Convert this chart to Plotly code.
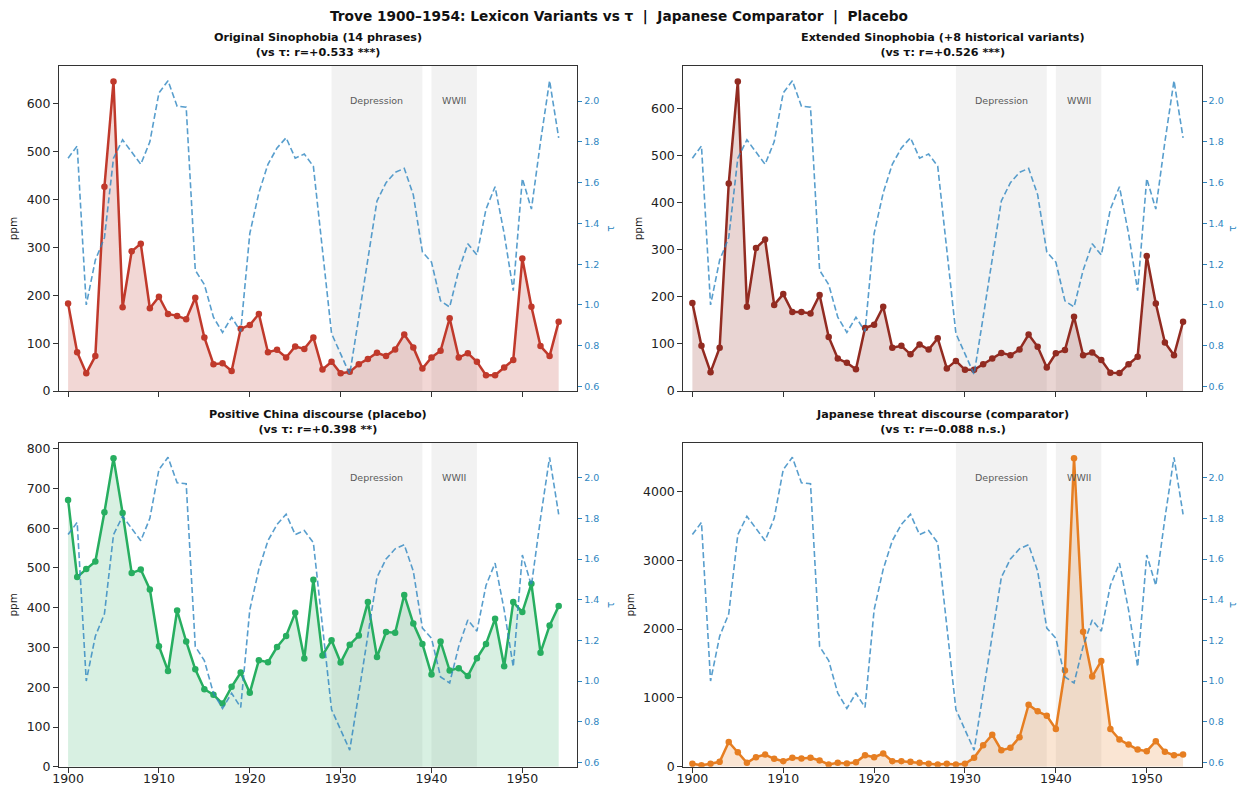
import plotly.graph_objects as go

years = list(range(1900, 1955))

tau = [1.72, 1.78, 1.00, 1.22, 1.33, 1.72, 1.81, 1.75, 1.69, 1.80,
       2.04, 2.10, 1.975, 1.97, 1.17, 1.10, 0.94, 0.865, 0.94, 0.87,
       1.35, 1.55, 1.69, 1.77, 1.82, 1.72, 1.74, 1.68, 1.28, 0.86,
       0.76, 0.66, 0.94, 1.22, 1.51, 1.60, 1.65, 1.67, 1.54, 1.26,
       1.21, 1.02, 0.99, 1.17, 1.30, 1.245, 1.47, 1.58, 1.35, 1.07,
       1.62, 1.47, 1.80, 2.10, 1.82]

original = [183, 81, 37, 73, 427, 647, 175, 292, 308, 173,
            197, 161, 157, 150, 195, 112, 56, 58, 42, 130,
            138, 161, 81, 86, 70, 93, 88, 112, 45, 61,
            37, 40, 56, 67, 80, 73, 87, 118, 91, 47,
            70, 84, 152, 70, 79, 61, 33, 33, 49, 65,
            277, 176, 94, 73, 145]

extended = [187, 96, 40, 92, 441, 658, 179, 304, 322, 183,
            206, 168, 168, 165, 204, 115, 69, 60, 46, 134,
            141, 179, 92, 96, 78, 99, 88, 112, 48, 64,
            45, 45, 57, 69, 81, 76, 88, 120, 94, 50,
            80, 87, 158, 76, 82, 66, 39, 38, 57, 73,
            287, 186, 103, 76, 147]

placebo = [671, 477, 497, 516, 640, 776, 638, 487, 496, 446,
           303, 241, 393, 315, 245, 195, 181, 159, 201, 237,
           186, 268, 263, 301, 329, 387, 272, 470, 280, 318,
           262, 307, 330, 414, 276, 339, 337, 432, 360, 309,
           232, 315, 242, 248, 228, 273, 309, 372, 253, 414,
           389, 460, 287, 355, 404]

japanese = [43, 24, 43, 72, 361, 212, 58, 140, 178, 116,
            82, 130, 120, 130, 92, 34, 58, 48, 67, 169,
            140, 193, 82, 82, 72, 58, 43, 34, 43, 34,
            43, 130, 313, 467, 241, 275, 429, 901, 805, 742,
            549, 1398, 4482, 1961, 1311, 1537, 549, 395, 323, 251,
            227, 371, 217, 169, 178]

titles = ["Original Sinophobia (14 phrases)<br>(vs τ: r=+0.533 ***)",
          "Extended Sinophobia (+8 historical variants)<br>(vs τ: r=+0.526 ***)",
          "Positive China discourse (placebo)<br>(vs τ: r=+0.398 **)",
          "Japanese threat discourse (comparator)<br>(vs τ: r=-0.088 n.s.)"]
series = [original, extended, placebo, japanese]
colors = ["#c0392b", "#922b21", "#27ae60", "#e67e22"]
fills = ["rgba(192,57,43,0.2)", "rgba(146,43,33,0.2)",
         "rgba(39,174,96,0.18)", "rgba(230,126,34,0.2)"]
ytick_sets = [list(range(0, 700, 100)), list(range(0, 700, 100)),
              list(range(0, 900, 100)), list(range(0, 5000, 1000))]
tau_ticks = [0.6, 0.8, 1.0, 1.2, 1.4, 1.6, 1.8, 2.0]
periods = [("Depression", 1929, 1939), ("WWII", 1940, 1945)]

W, H = 1238, 788
xdoms = [(59 / W, 577.3 / W), (683.3 / W, 1201.7 / W)]
ydoms = [(1 - 391 / H, 1 - 66 / H), (1 - 766.8 / H, 1 - 442.7 / H)]

FONT = "DejaVu Sans"
TAUC = "#2e86c1"
fig = go.Figure()
layout = dict(width=W, height=H, margin=dict(l=0, r=0, t=0, b=0, autoexpand=False),
              paper_bgcolor="white", plot_bgcolor="white", showlegend=False,
              font=dict(family=FONT, color="#222"))
annotations = []
shapes = []


def nm(prefix, n):
    return prefix if n == 1 else f"{prefix}{n}"


for i in range(4):
    row, col = divmod(i, 2)
    n = i + 1
    xa, ya, ya2 = nm("x", n), nm("y", n), f"y{n + 4}"
    xkey, ykey, y2key = nm("xaxis", n), nm("yaxis", n), f"yaxis{n + 4}"
    vals = series[i]
    ymax = max(vals) * 1.05
    layout[xkey] = dict(domain=list(xdoms[col]), anchor=ya, range=[1899, 1956.05],
                        tickvals=[1900, 1910, 1920, 1930, 1940, 1950],
                        showticklabels=(row == 1), ticks="outside", ticklen=5,
                        ticklabelstandoff=-5,
                        tickcolor="#333", showline=True, linecolor="#333", linewidth=1,
                        mirror=True, showgrid=False, zeroline=False, automargin=False,
                        tickfont=dict(size=12.5, color="#222"))
    layout[ykey] = dict(domain=list(ydoms[row]), anchor=xa, range=[0, ymax],
                        tickvals=ytick_sets[i], ticks="outside", ticklen=5, tickcolor="#333",
                        showline=True, linecolor="#333", linewidth=1,
                        showgrid=False, zeroline=False, automargin=False,
                        tickfont=dict(size=12.5, color="#222"),
                        title=dict(text="ppm", font=dict(size=10.5), standoff=6))
    layout[y2key] = dict(overlaying=ya, anchor=xa, side="right", range=[0.578, 2.172],
                         tickvals=tau_ticks, ticktext=[f"{t:.1f}" for t in tau_ticks],
                         ticks="outside", ticklen=4, tickcolor=TAUC,
                         showline=True, linecolor="#333", linewidth=1,
                         showgrid=False, zeroline=False, automargin=False,
                         tickfont=dict(size=9.5, color=TAUC),
                         title=dict(text="τ", font=dict(size=10.5, color=TAUC), standoff=8))
    for name, a, b in periods:
        shapes.append(dict(type="rect", xref=xa, yref=f"{ya} domain", x0=a, x1=b, y0=0, y1=1,
                           fillcolor="rgba(128,128,128,0.1)", line=dict(width=0), layer="below"))
        annotations.append(dict(text=name, x=(a + b) / 2, xref=xa, y=0.893, yref=f"{ya} domain",
                                showarrow=False, font=dict(size=9.5, color="#5a5a5a"),
                                xanchor="center", yanchor="middle"))
    fig.add_trace(go.Scatter(x=years, y=vals, xaxis=xa, yaxis=ya, mode="lines+markers",
                             line=dict(color=colors[i], width=2.5),
                             marker=dict(color=colors[i], size=6.5),
                             fill="tozeroy", fillcolor=fills[i], hoverinfo="skip"))
    fig.add_trace(go.Scatter(x=years, y=tau, xaxis=xa, yaxis=ya2, mode="lines",
                             line=dict(color="rgba(46,134,193,0.8)", width=1.6, dash="6px,3px"),
                             hoverinfo="skip"))
    cx = (xdoms[col][0] + xdoms[col][1]) / 2
    annotations.append(dict(text="<b>" + titles[i] + "</b>", x=cx, xref="paper",
                            y=ydoms[row][1] + 5 / H, yref="paper", showarrow=False,
                            xanchor="center", yanchor="bottom",
                            font=dict(size=11.2, color="#111")))

annotations.append(dict(text="<b>Trove 1900–1954: Lexicon Variants vs τ  |  Japanese Comparator  |  Placebo</b>",
                        x=0.5, xref="paper", y=1 - 17 / H, yref="paper", showarrow=False,
                        xanchor="center", yanchor="middle", font=dict(size=13.7, color="#111")))
layout["annotations"] = annotations
layout["shapes"] = shapes
fig.update_layout(**layout)
fig.write_html("out.html")
